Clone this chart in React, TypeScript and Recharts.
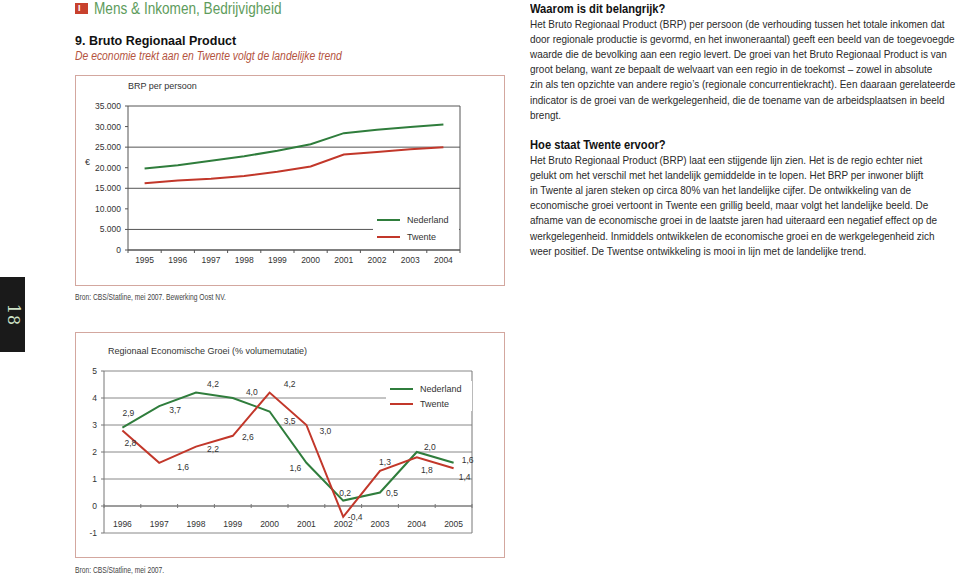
import React from 'react'
import {CartesianGrid, Legend, Line, LineChart, ReferenceLine, XAxis, YAxis} from 'recharts'

// BRP per persoon (euro)
const brpYears = ['1995', '1996', '1997', '1998', '1999', '2000', '2001', '2002', '2003', '2004']
const brpNederland = [19800, 20600, 21700, 22800, 24100, 25700, 28400, 29200, 29900, 30500]
const brpTwente = [16200, 16900, 17300, 18000, 19000, 20300, 23200, 23800, 24500, 25000]
const brpTicks = [0, 5000, 10000, 15000, 20000, 25000, 30000, 35000]

// Regionaal economische groei (% volumemutatie)
const groeiYears = ['1996', '1997', '1998', '1999', '2000', '2001', '2002', '2003', '2004', '2005']
const groeiNederland = [2.9, 3.7, 4.2, 4.0, 3.5, 1.6, 0.2, 0.5, 2.0, 1.6]
const groeiTwente = [2.8, 1.6, 2.2, 2.6, 4.2, 3.0, -0.4, 1.3, 1.8, 1.4]
const groeiTicks = [-1, 0, 1, 2, 3, 4, 5]

const brpData = brpYears.map((year, i) => ({year, Nederland: brpNederland[i], Twente: brpTwente[i]}))
const groeiData = groeiYears.map((year, i) => ({year, Nederland: groeiNederland[i], Twente: groeiTwente[i]}))

// label offsets next to each point (hand placed, like the print)
const nlLabelOffsets = [[6, -15], [16, 4], [17, -9], [19, -6], [20, 9], [-11, 5], [2, -8], [12, 0], [13, -5], [14, -3]]
const twLabelOffsets = [[8, 13], [24, 4], [17, 2], [15, 1], [20, -9], [19, 6], [12, 0], [5, -9], [10, 13], [11, 9]]

const GREEN = '#2f7d3c'
const RED = '#c2372a'
const BOX = '#d3a79f'
const ARIAL = "'Liberation Sans', Arial, sans-serif"
const TXT = '#2a2a2a'

const thousands = (v: number) => String(v).replace(/\B(?=(\d{3})+(?!\d))/g, '.')
const decimal = (v: number) => v.toFixed(1).replace('.', ',')

// x axis line with tick marks between the categories
const tickedAxis = (n: number, above: number, below: number, stroke: string) => (props: any) => {
  const {x1, x2, y1} = props
  const step = (x2 - x1) / n
  return (
    <g>
      <line x1={x1} x2={x2} y1={y1} y2={y1} stroke={stroke} />
      {Array.from({length: n + 1}, (_, i) => (
        <line key={i} x1={x1 + i * step} x2={x1 + i * step} y1={y1 - above} y2={y1 + below} stroke={stroke} />
      ))}
    </g>
  )
}

const yearTick = (shift: number) => (props: any) => (
  <text x={props.x} y={props.y + shift} textAnchor='middle' fontSize={8.5} fontFamily={ARIAL} fill='#333'>
    {props.payload.value}
  </text>
)

const pointLabel = (values: number[], offsets: number[][]) => (props: any) => {
  const {cx, cy, index} = props
  const [dx, dy] = offsets[index]
  return (
    <text key={`lbl-${index}`} x={cx + dx} y={cy + dy} textAnchor='middle' dominantBaseline='central'
      fontSize={8.5} fontFamily={ARIAL} fill='#333'>
      {decimal(values[index])}
    </text>
  )
}

const legendContent = (rowHeight: number) => (props: any) => (
  <div style={{background: '#fff', paddingLeft: 4}}>
    {props.payload.map((p: any) => (
      <div key={p.value} style={{display: 'flex', alignItems: 'center', height: rowHeight}}>
        <span style={{display: 'inline-block', width: 23, height: 2, background: p.color}} />
        <span style={{marginLeft: 7, fontSize: 9, fontFamily: ARIAL, color: '#333'}}>{p.value}</span>
      </div>
    ))}
  </div>
)

const BrpChart = () => (
  <LineChart width={430} height={211} data={brpData} margin={{top: 31, right: 44, bottom: 16, left: 8}}>
    <CartesianGrid vertical={false} stroke='#555' />
    <XAxis dataKey='year' scale='band' axisLine={false} tickLine={false} tickSize={0} tickMargin={0}
      height={20} interval={0} tick={yearTick(13)} />
    <YAxis domain={[0, 35000]} ticks={brpTicks} width={45} stroke='#555' tickSize={3} tickMargin={4}
      tickFormatter={thousands} tick={{fontSize: 8.5, fontFamily: ARIAL, fill: '#333'}} />
    <YAxis yAxisId='frame' orientation='right' width={1} tick={false} tickLine={false} stroke='#555' />
    <ReferenceLine y={0} shape={tickedAxis(10, 0, 3, '#555')} />
    <Legend layout='vertical' align='center' verticalAlign='middle' content={legendContent(17)}
      wrapperStyle={{left: 298, top: 136, width: 86}} />
    <Line dataKey='Nederland' stroke={GREEN} strokeWidth={2} dot={false} isAnimationActive={false} />
    <Line dataKey='Twente' stroke={RED} strokeWidth={2} dot={false} isAnimationActive={false} />
  </LineChart>
)

const GroeiChart = () => (
  <LineChart width={430} height={226} data={groeiData} margin={{top: 39, right: 32, bottom: 24, left: 7}}>
    <CartesianGrid vertical={false} stroke='#888' />
    <XAxis dataKey='year' scale='band' axisLine={false} tickLine={false} tickSize={0} tickMargin={0}
      height={1} interval={0} tick={yearTick(-6)} />
    <YAxis domain={[-1, 5]} ticks={groeiTicks} width={22} stroke='#777' tickSize={3} tickMargin={4}
      tick={{fontSize: 8.5, fontFamily: ARIAL, fill: '#333'}} />
    <YAxis yAxisId='frame' orientation='right' width={1} tick={false} tickLine={false} stroke='#777' />
    <ReferenceLine y={0} shape={tickedAxis(10, 2, 2, '#777')} />
    <Legend layout='vertical' align='center' verticalAlign='middle' content={legendContent(15)}
      wrapperStyle={{left: 311, top: 49, width: 86}} />
    <Line dataKey='Nederland' stroke={GREEN} strokeWidth={2} isAnimationActive={false}
      dot={pointLabel(groeiNederland, nlLabelOffsets)} />
    <Line dataKey='Twente' stroke={RED} strokeWidth={2} isAnimationActive={false}
      dot={pointLabel(groeiTwente, twLabelOffsets)} />
  </LineChart>
)

const para1 = [
  'Het Bruto Regionaal Product (BRP) per persoon (de verhouding tussen het totale inkomen dat',
  'door regionale productie is gevormd, en het inwoneraantal) geeft een beeld van de toegevoegde',
  'waarde die de bevolking aan een regio levert. De groei van het Bruto Regionaal Product is van',
  'groot belang, want ze bepaalt de welvaart van een regio in de toekomst – zowel in absolute',
  'zin als ten opzichte van andere regio’s (regionale concurrentiekracht). Een daaraan gerelateerde',
  'indicator is de groei van de werkgelegenheid, die de toename van de arbeidsplaatsen in beeld',
  'brengt.'
]
const para2 = [
  'Het Bruto Regionaal Product (BRP) laat een stijgende lijn zien. Het is de regio echter niet',
  'gelukt om het verschil met het landelijk gemiddelde in te lopen. Het BRP per inwoner blijft',
  'in Twente al jaren steken op circa 80% van het landelijke cijfer. De ontwikkeling van de',
  'economische groei vertoont in Twente een grillig beeld, maar volgt het landelijke beeld. De',
  'afname van de economische groei in de laatste jaren had uiteraard een negatief effect op de',
  'werkgelegenheid. Inmiddels ontwikkelen de economische groei en de werkgelegenheid zich',
  'weer positief. De Twentse ontwikkeling is mooi in lijn met de landelijke trend.'
]

const abs = (left: number, top: number, extra: React.CSSProperties = {}): React.CSSProperties => ({
  position: 'absolute', left, top, whiteSpace: 'nowrap', ...extra
})

// the print uses a condensed face; squeeze the sans horizontally
const Squeeze = ({k, children}: {k: number; children: React.ReactNode}) => (
  <span style={{display: 'inline-block', transform: `scaleX(${k})`, transformOrigin: '0 0'}}>{children}</span>
)

const Paragraph = ({top, title, lines}: {top: number; title: string; lines: string[]}) => (
  <div style={abs(530, top, {fontFamily: ARIAL, fontSize: 11, lineHeight: '15.1px', color: TXT})}>
    <div style={{fontWeight: 'bold', color: '#111', fontSize: 12}}><Squeeze k={0.93}>{title}</Squeeze></div>
    {lines.map((l) => <div key={l}><Squeeze k={0.905}>{l}</Squeeze></div>)}
  </div>
)

export default function App() {
  return (
    <div style={{position: 'absolute', left: 0, top: 0, width: 960, height: 576, background: '#fff', overflow: 'hidden'}}>
      <div style={abs(75, 3, {width: 13, height: 11, background: '#c8412d', color: '#fff', fontFamily: ARIAL,
        fontSize: 9, fontWeight: 'bold', lineHeight: '11px', textIndent: 3})}>I</div>
      <div style={abs(94, 0, {fontFamily: ARIAL, fontSize: 16, lineHeight: '18px', color: '#5e9c5c'})}>
        <Squeeze k={0.85}>Mens &amp; Inkomen, Bedrijvigheid</Squeeze>
      </div>
      <div style={abs(75, 33, {fontFamily: ARIAL, fontSize: 12.5, lineHeight: '16px', fontWeight: 'bold', color: '#111'})}>
        9. Bruto Regionaal Product
      </div>
      <div style={abs(75, 48, {fontFamily: ARIAL, fontSize: 12.5, lineHeight: '16px', fontStyle: 'italic', color: '#b4533e'})}>
        <Squeeze k={0.83}>De economie trekt aan en Twente volgt de landelijke trend</Squeeze>
      </div>

      <div style={abs(75, 75, {width: 430, height: 211, border: `1px solid ${BOX}`, boxSizing: 'border-box'})} />
      <div style={abs(128, 81, {fontFamily: ARIAL, fontSize: 9, color: '#333'})}>BRP per persoon</div>
      <div style={abs(85, 157, {fontFamily: ARIAL, fontSize: 9, color: '#333'})}>€</div>
      <div style={abs(75, 75)}><BrpChart /></div>
      <div style={abs(75, 292, {fontFamily: ARIAL, fontSize: 8.5, color: '#444'})}>
        <Squeeze k={0.79}>Bron: CBS/Statline, mei 2007. Bewerking Oost NV.</Squeeze>
      </div>

      <div style={abs(0, 277, {width: 25, height: 75, background: '#1a1a1a'})}>
        <div style={{position: 'absolute', left: 12.5, top: 37.5, transform: 'translate(-50%, -50%) rotate(90deg)',
          color: '#cfe3c8', fontFamily: "'DejaVu Serif', serif", fontSize: 16, letterSpacing: 1}}>18</div>
      </div>

      <div style={abs(75, 332, {width: 430, height: 226, border: `1px solid ${BOX}`, boxSizing: 'border-box'})} />
      <div style={abs(108, 346, {fontFamily: ARIAL, fontSize: 9, color: '#333'})}>
        Regionaal Economische Groei (% volumemutatie)
      </div>
      <div style={abs(75, 332)}><GroeiChart /></div>
      <div style={abs(75, 565, {fontFamily: ARIAL, fontSize: 8.5, color: '#444'})}>
        <Squeeze k={0.79}>Bron: CBS/Statline, mei 2007.</Squeeze>
      </div>

      <Paragraph top={2} title='Waarom is dit belangrijk?' lines={para1} />
      <Paragraph top={138} title='Hoe staat Twente ervoor?' lines={para2} />
    </div>
  )
}
